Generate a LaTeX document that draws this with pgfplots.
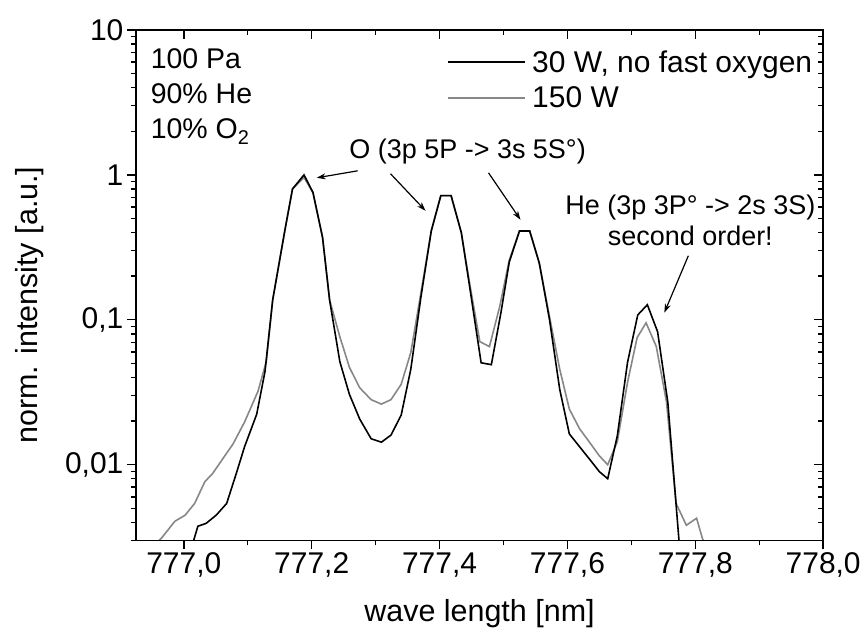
\documentclass[border=0pt]{standalone}
\usepackage{fontspec}
\setmainfont{Liberation Sans}
\usepackage{pgfplots}
\pgfplotsset{compat=1.18}
\usetikzlibrary{arrows.meta}
\definecolor{lgray}{RGB}{135,135,135}
\newcommand{\fsT}{\fontsize{30}{36}\selectfont}   % tick labels
\newcommand{\fsL}{\fontsize{30.5}{36}\selectfont} % axis labels
\newcommand{\fsG}{\fontsize{30}{36}\selectfont}   % legend
\newcommand{\fsB}{\fontsize{28.5}{35}\selectfont} % conditions box
\newcommand{\fsA}{\fontsize{27}{31}\selectfont}   % annotations

\begin{document}
\begin{tikzpicture}
\begin{axis}[
    width=688pt, height=511pt, scale only axis,
    xmin=776.925, xmax=778.0,
    ymode=log, ymin=0.003, ymax=10,
    xtick={777.0,777.2,777.4,777.6,777.8,778.0},
    minor x tick num=1,
    ytick={0.01,0.1,1,10},
    minor ytick={0.003,0.004,0.005,0.006,0.007,0.008,0.009,
                 0.02,0.03,0.04,0.05,0.06,0.07,0.08,0.09,
                 0.2,0.3,0.4,0.5,0.6,0.7,0.8,0.9,
                 2,3,4,5,6,7,8,9},
    major tick length=9pt, minor tick length=5pt,
    every tick/.style={black, line width=1.4pt},
    axis line style={line width=1.8pt},
    tick align=outside,
    xtick pos=left, ytick pos=left,
    tick label style={font=\fsT},
    /pgf/number format/assume math mode=true,
    xticklabel={\pgfmathprintnumber[fixed,fixed zerofill,precision=1,use comma]{\tick}},
    yticklabels={{0,01},{0,1},{1},{10}},
    xlabel={wave length [nm]},
    ylabel={norm. intensity [a.u.]},
    label style={font=\fsL},
    xlabel style={at={(rel axis cs:0.5,-0.143)}, anchor=center},
    ylabel style={at={(rel axis cs:-0.154,0.461)}, anchor=center},
    legend style={draw=none, fill=none, at={(0.452,0.964)}, anchor=north west,
                  font=\fsG, row sep=9pt, inner sep=0pt},
    legend cell align=left,
    reverse legend,
    legend image code/.code={\draw[#1] (0pt,0pt) -- (78pt,0pt); \path (82pt,0pt);},
  ]

% 150 W
\addplot[color=lgray, line width=1.6pt] coordinates {
(776.947,0.0026) (776.965,0.00311) (776.986,0.00407) (777.002,0.00448)
(777.017,0.00541) (777.033,0.00765) (777.045,0.00868) (777.061,0.0110)
(777.077,0.0139) (777.095,0.0197) (777.116,0.0321) (777.129,0.0515)
(777.139,0.137) (777.158,0.413) (777.170,0.80) (777.188,0.96)
(777.202,0.753) (777.217,0.370) (777.228,0.137) (777.244,0.0765)
(777.259,0.047) (777.275,0.034) (777.293,0.0281) (777.309,0.0262)
(777.324,0.0281) (777.340,0.0359) (777.355,0.0594) (777.371,0.155)
(777.387,0.41) (777.402,0.72) (777.418,0.72) (777.434,0.40)
(777.447,0.179) (777.463,0.0707) (777.478,0.0653) (777.494,0.123)
(777.509,0.258) (777.525,0.41) (777.541,0.41) (777.556,0.246)
(777.572,0.105) (777.588,0.0455) (777.603,0.0242) (777.619,0.0177)
(777.634,0.0144) (777.650,0.0115) (777.663,0.0100) (777.678,0.0144)
(777.694,0.0370) (777.709,0.0753) (777.723,0.0953) (777.739,0.0653)
(777.755,0.0270) (777.770,0.0054) (777.786,0.00382) (777.802,0.00427)
(777.811,0.00311) (777.822,0.0024)
};
\addlegendentry{150 W}

% 30 W, no fast oxygen
\addplot[color=black, line width=1.6pt] coordinates {
(776.995,0.0015) (777.022,0.00376) (777.035,0.00394) (777.051,0.0045)
(777.067,0.0054) (777.082,0.00868) (777.095,0.0133) (777.114,0.0223)
(777.127,0.044) (777.139,0.137) (777.158,0.413) (777.170,0.80)
(777.188,1.0) (777.202,0.757) (777.217,0.37) (777.228,0.137)
(777.244,0.0515) (777.259,0.0306) (777.275,0.0207) (777.293,0.0151)
(777.309,0.0143) (777.324,0.0160) (777.340,0.0220) (777.355,0.0455)
(777.371,0.145) (777.387,0.41) (777.402,0.72) (777.418,0.72)
(777.434,0.40) (777.447,0.17) (777.465,0.0505) (777.481,0.049)
(777.496,0.112) (777.509,0.25) (777.525,0.41) (777.541,0.41)
(777.556,0.246) (777.572,0.100) (777.588,0.033) (777.603,0.0163)
(777.619,0.0133) (777.634,0.011) (777.650,0.00895) (777.663,0.0080)
(777.678,0.0158) (777.694,0.0508) (777.710,0.108) (777.725,0.127)
(777.741,0.0828) (777.757,0.027) (777.780,0.0015)
};
\addlegendentry{30 W, no fast oxygen}

\node[anchor=north west, align=left, font=\fsB, inner sep=0pt]
  at (rel axis cs:0.0215,0.963) {100 Pa\\90\% He\\10\% O\textsubscript{2}};

\node[font=\fsA, inner sep=0pt] at (rel axis cs:0.4826,0.761) {O (3p 5P -> 3s 5S°)};
\draw[-{Stealth[length=9pt,width=6pt]}, line width=1.2pt]
  (rel axis cs:0.3227,0.7241) -- (rel axis cs:0.2631,0.7104);
\draw[-{Stealth[length=9pt,width=6pt]}, line width=1.2pt]
  (rel axis cs:0.3706,0.7182) -- (rel axis cs:0.4215,0.6458);
\draw[-{Stealth[length=9pt,width=6pt]}, line width=1.2pt]
  (rel axis cs:0.5131,0.7202) -- (rel axis cs:0.5596,0.6282);

\node[font=\fsA, align=center, inner sep=0pt] at (rel axis cs:0.8067,0.628)
  {He (3p 3P° -> 2s 3S)\\second order!};
\draw[-{Stealth[length=9pt,width=6pt]}, line width=1.2pt]
  (rel axis cs:0.8038,0.5577) -- (rel axis cs:0.7689,0.4462);
\end{axis}

% top and right ticks point inwards
\begin{axis}[
    width=688pt, height=511pt, scale only axis,
    xmin=776.925, xmax=778.0,
    ymode=log, ymin=0.003, ymax=10,
    xtick={777.0,777.2,777.4,777.6,777.8,778.0},
    minor x tick num=1,
    ytick={0.01,0.1,1,10},
    minor ytick={0.003,0.004,0.005,0.006,0.007,0.008,0.009,
                 0.02,0.03,0.04,0.05,0.06,0.07,0.08,0.09,
                 0.2,0.3,0.4,0.5,0.6,0.7,0.8,0.9,
                 2,3,4,5,6,7,8,9},
    major tick length=9pt, minor tick length=5pt,
    every tick/.style={black, line width=1.4pt},
    axis line style={line width=1.8pt},
    tick align=inside,
    xtick pos=right, ytick pos=right,
    xticklabels={}, yticklabels={},
  ]
\end{axis}

\path (-136pt,-94pt) rectangle (728pt,541pt);
\end{tikzpicture}
\end{document}
